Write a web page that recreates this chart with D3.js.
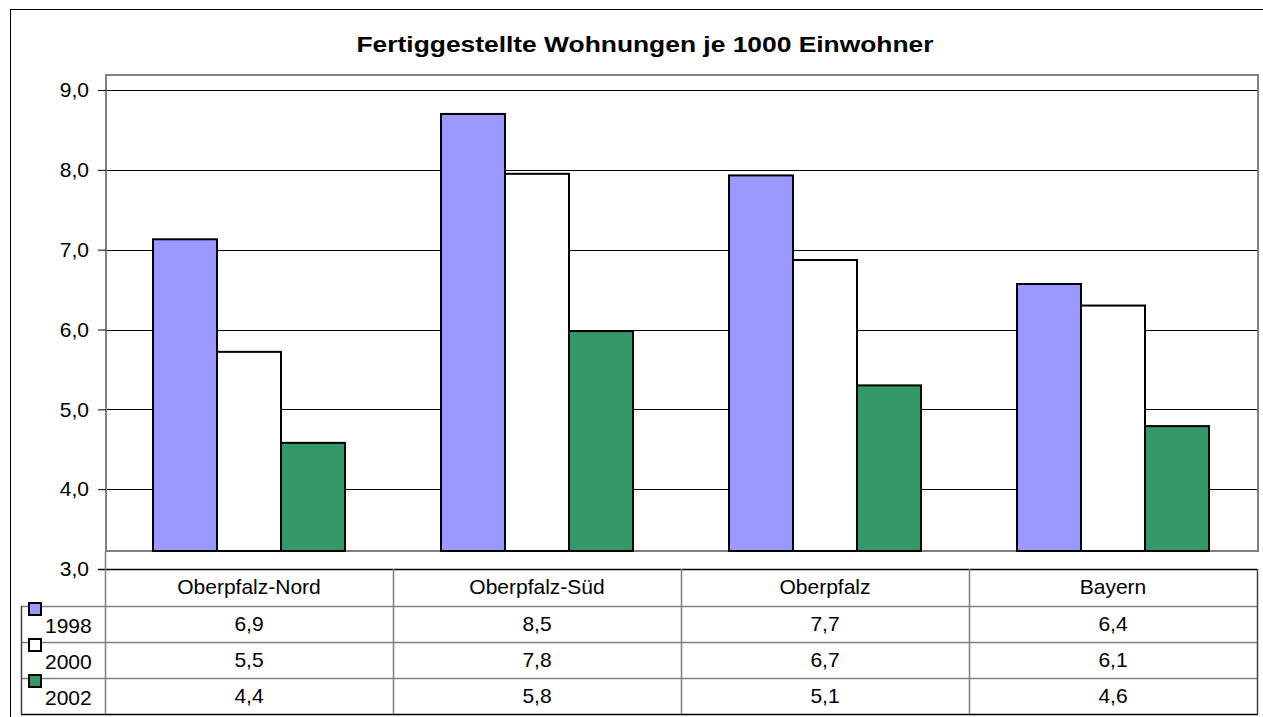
<!DOCTYPE html>
<html>
<head>
<meta charset="utf-8">
<script src="https://cdn.jsdelivr.net/npm/d3@7"></script>
<style>
  body { margin: 0; background: #fff; }
  svg text { font-family: Arial, "Liberation Sans", sans-serif; fill: #000; }
</style>
</head>
<body>
<div id="chart"></div>
<script>
// data
const categories = ["Oberpfalz-Nord", "Oberpfalz-Süd", "Oberpfalz", "Bayern"];
const years = ["1998", "2000", "2002"];
// bar heights as drawn against the value axis
const bars1998 = [7.13, 8.70, 7.93, 6.57];
const bars2000 = [5.72, 7.95, 6.87, 6.30];
const bars2002 = [4.58, 5.98, 5.30, 4.79];
// values printed in the data table
const table1998 = ["6,9", "8,5", "7,7", "6,4"];
const table2000 = ["5,5", "7,8", "6,7", "6,1"];
const table2002 = ["4,4", "5,8", "5,1", "4,6"];
const yTicks = [3, 4, 5, 6, 7, 8, 9];

const barSeries = [bars1998, bars2000, bars2002];
const tableSeries = [table1998, table2000, table2002];
const colors = ["#9999FF", "#FFFFFF", "#339966"];

const W = 1263, H = 717;
const plot = { left: 106, top: 75, right: 1258, bottom: 551 };
const tbl = { left: 105, right: 1257, top: 569, head: 37, row: 36, legendLeft: 21 };
const fs = 21;

const svg = d3.select("#chart")
  .append("svg")
  .attr("width", W)
  .attr("height", H);

// outer frame (runs off the right and bottom)
svg.append("rect")
  .attr("x", 10.5).attr("y", 9.5)
  .attr("width", W + 20).attr("height", H + 20)
  .attr("fill", "none").attr("stroke", "#000").attr("stroke-width", 1);

// title is drawn wide in the original, so stretch it sideways a bit
svg.append("text")
  .attr("transform", "translate(645,52) scale(1.2,1)")
  .attr("text-anchor", "middle")
  .attr("font-size", 22).attr("font-weight", "bold")
  .text("Fertiggestellte Wohnungen je 1000 Einwohner");

const y = d3.scaleLinear().domain([3, 9]).range([569, 90]);
const x0 = d3.scaleBand().domain(categories).range([tbl.left, tbl.right]);
const x1 = d3.scaleBand().domain(years).range([48, 240]);

// plot area border
svg.append("rect")
  .attr("x", plot.left).attr("y", plot.top)
  .attr("width", plot.right - plot.left).attr("height", plot.bottom - plot.top)
  .attr("fill", "#fff").attr("stroke", "#808080").attr("stroke-width", 2);

// gridlines
svg.append("g")
  .selectAll("line")
  .data(yTicks.filter(d => d > 3))
  .join("line")
  .attr("x1", plot.left + 1).attr("x2", plot.right - 1)
  .attr("y1", d => Math.round(y(d)) + 0.5).attr("y2", d => Math.round(y(d)) + 0.5)
  .attr("stroke", "#000").attr("stroke-width", 1);

// value axis labels + ticks
const yAxis = d3.axisLeft(y)
  .tickValues(yTicks)
  .tickSize(8)
  .tickPadding(9)
  .tickFormat(d => d3.format(".1f")(d).replace(".", ","));
const ya = svg.append("g")
  .attr("transform", `translate(${plot.left},0)`)
  .call(yAxis);
ya.select(".domain").remove();
ya.selectAll(".tick line").attr("stroke", "#000");
ya.selectAll("text").attr("font-size", fs).attr("font-family", "Arial, 'Liberation Sans', sans-serif");

// bars
const groups = svg.append("g")
  .selectAll("g")
  .data(categories)
  .join("g")
  .attr("transform", d => `translate(${x0(d)},0)`);

groups.selectAll("rect")
  .data((c, i) => years.map((yr, s) => ({ yr, s, v: barSeries[s][i] })))
  .join("rect")
  .attr("x", d => x1(d.yr))
  .attr("y", d => y(d.v))
  .attr("width", x1.bandwidth())
  .attr("height", d => plot.bottom - y(d.v))
  .attr("fill", d => colors[d.s])
  .attr("stroke", "#000").attr("stroke-width", 2);

// data table
const rowTop = i => tbl.top + tbl.head + i * tbl.row;
const tg = svg.append("g");
const hline = (x1_, x2_, yy, col) => tg.append("line")
  .attr("x1", x1_).attr("x2", x2_).attr("y1", yy + 0.5).attr("y2", yy + 0.5)
  .attr("stroke", col).attr("stroke-width", 1.5);
const vline = (xx, y1_, y2_, col) => tg.append("line")
  .attr("x1", xx + 0.5).attr("x2", xx + 0.5).attr("y1", y1_).attr("y2", y2_)
  .attr("stroke", col).attr("stroke-width", 1.5);

const bottom = rowTop(years.length);
hline(98, tbl.right, tbl.top, "#000");
years.forEach((yr, i) => hline(tbl.legendLeft, tbl.right, rowTop(i), "#808080"));
hline(tbl.legendLeft, tbl.right + 1, bottom, "#000");
vline(tbl.left, plot.bottom, bottom, "#808080");
vline(tbl.legendLeft, rowTop(0), bottom, "#404040");
categories.slice(1).forEach(c => vline(x0(c), tbl.top, bottom, "#808080"));
vline(tbl.right, tbl.top, bottom, "#404040");

tg.selectAll(".cat")
  .data(categories)
  .join("text")
  .attr("class", "cat")
  .attr("x", d => x0(d) + x0.bandwidth() / 2)
  .attr("y", tbl.top + 25)
  .attr("text-anchor", "middle")
  .attr("font-size", fs)
  .text(d => d);

years.forEach((yr, s) => {
  const top = rowTop(s);
  tg.append("rect")
    .attr("x", 29).attr("y", top - 3)
    .attr("width", 12).attr("height", 12)
    .attr("fill", colors[s]).attr("stroke", "#000").attr("stroke-width", 2);
  tg.append("text")
    .attr("x", 45).attr("y", top + 27)
    .attr("font-size", fs)
    .text(yr);
  tg.selectAll(".v" + yr)
    .data(tableSeries[s])
    .join("text")
    .attr("x", (d, i) => x0(categories[i]) + x0.bandwidth() / 2)
    .attr("y", top + 25)
    .attr("text-anchor", "middle")
    .attr("font-size", fs)
    .text(d => d);
});
</script>
</body>
</html>
